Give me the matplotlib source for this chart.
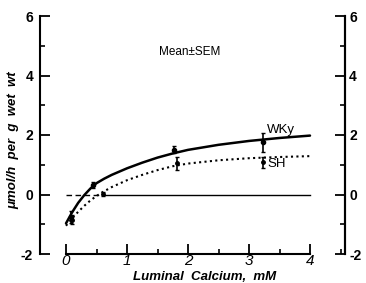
import matplotlib
matplotlib.use("Agg")
import matplotlib.pyplot as plt
from matplotlib.ticker import MultipleLocator

# Curves
curve_x_wky = [0, 0.1, 0.2, 0.3, 0.4, 0.5, 0.625, 0.75, 0.875, 1.0, 1.25, 1.5, 1.75, 2.0, 2.5, 3.0, 3.5, 4.0]
curve_y_wky = [-0.97, -0.6, -0.28, -0.02, 0.2, 0.38, 0.53, 0.66, 0.77, 0.88, 1.07, 1.24, 1.38, 1.5, 1.67, 1.8, 1.9, 1.98]
curve_x_sh = [0, 0.1, 0.2, 0.3, 0.4, 0.5, 0.6, 0.75, 1.0, 1.25, 1.5, 1.75, 2.0, 2.5, 3.0, 3.5, 4.0]
curve_y_sh = [-1.05, -0.8, -0.58, -0.38, -0.2, -0.05, 0.08, 0.25, 0.48, 0.66, 0.82, 0.95, 1.04, 1.15, 1.22, 1.26, 1.29]

# Mean +/- SEM points
pts_x_wky = [0.08, 0.45, 1.77, 3.23]
pts_y_wky = [-0.75, 0.33, 1.5, 1.75]
pts_e_wky = [0.2, 0.1, 0.12, 0.32]
pts_x_sh = [0.1, 0.6, 1.82, 3.23]
pts_y_sh = [-0.85, 0.02, 1.05, 1.08]
pts_e_sh = [0.15, 0.08, 0.22, 0.18]

xticks = [0, 1, 2, 3, 4]
yticks = [-2, 0, 2, 4, 6]

W, H = 366, 283
fig = plt.figure(figsize=(W / 100, H / 100), dpi=100)
L, R, T, B = 40, 345, 16, 254
ax = fig.add_axes([L / W, (H - B) / H, (R - L) / W, (B - T) / H])

x0px, upx = 66, 61.0
ax.set_xlim((L - x0px) / upx, (R - x0px) / upx)
ax.set_ylim(-2, 6)

tickfont = dict(family="Liberation Sans", weight="bold", size=10)

# zero line
ax.plot([0, 0.6], [0, 0], color="black", lw=1.0, ls=(0, (4, 2.5)))
ax.plot([0.6, 4], [0, 0], color="black", lw=1.0)

ax.plot(curve_x_wky, curve_y_wky, color="black", lw=1.8, solid_capstyle="round",
        solid_joinstyle="round")
ax.plot(curve_x_sh, curve_y_sh, color="black", lw=1.5, ls=(0, (1, 1.6)))

ax.errorbar(pts_x_wky, pts_y_wky, yerr=pts_e_wky, fmt="o", ms=3, color="black",
            elinewidth=1.2, capsize=1.5)
ax.errorbar(pts_x_sh, pts_y_sh, yerr=pts_e_sh, fmt="o", ms=2.5, color="black",
            elinewidth=1.2, capsize=1.5)

ax.text(2.03, 4.8, "Mean\u00b1SEM", ha="center", va="center",
        fontsize=8.5, family="Liberation Sans")
ax.text(3.30, 2.18, "WKy", ha="left", va="center", fontsize=9.5, family="Liberation Sans")
ax.text(3.31, 1.02, "SH", ha="left", va="center", fontsize=9.5, family="Liberation Sans")

ax.spines["top"].set_visible(False)
for s in ["left", "right", "bottom"]:
    ax.spines[s].set_linewidth(1.5)
ax.spines["bottom"].set_bounds(0, 4)

ax.set_xticks(xticks)
ax.set_xticklabels([str(v) for v in xticks], family="Liberation Sans", style="italic", size=11)
ax.xaxis.set_minor_locator(MultipleLocator(0.5))
ax.tick_params(axis="x", which="major", direction="in", length=7, width=1.3, pad=0)
ax.tick_params(axis="x", which="minor", direction="in", length=3.5, width=1.2)

ax.set_yticks(yticks)
ax.set_yticklabels([str(v) for v in yticks], **tickfont)
ax.yaxis.set_minor_locator(MultipleLocator(1))
ax.tick_params(axis="y", which="major", direction="in", length=7, width=1.3, pad=5)
ax.tick_params(axis="y", which="minor", direction="in", length=3.5, width=1.2)

ax2 = ax.twinx()
ax2.set_ylim(-2, 6)
ax2.set_yticks(yticks)
ax2.set_yticklabels([str(v) for v in yticks], **tickfont)
ax2.yaxis.set_minor_locator(MultipleLocator(1))
ax2.tick_params(axis="y", which="major", direction="in", length=7, width=1.3, pad=3)
ax2.tick_params(axis="y", which="minor", direction="in", length=3.5, width=1.2)
for s in ["top", "left", "bottom"]:
    ax2.spines[s].set_visible(False)
ax2.spines["right"].set_linewidth(1.5)

fig.text(205 / W, 1 - 277 / H, "Luminal  Calcium,  mM", ha="center", va="center",
         family="Liberation Sans", weight="bold", style="italic", fontsize=9.5)
fig.text(13 / W, 1 - 140 / H, "\u03bcmol/h  per  g  wet  wt", ha="center", va="center",
         rotation=90, family="Liberation Sans", weight="bold", style="italic", fontsize=9.5)

fig.savefig("out.png", dpi=100)
